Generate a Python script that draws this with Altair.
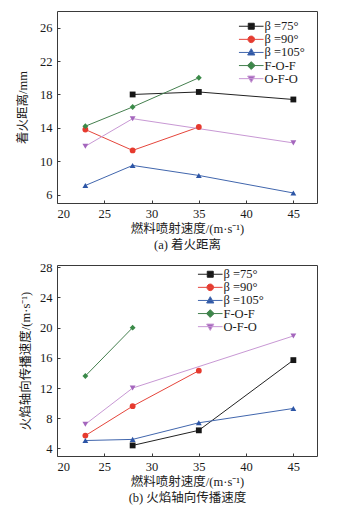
import altair as alt
import pandas as pd

# ---------------- data ----------------
series = ["β =75°", "β =90°", "β =105°", "F-O-F", "O-F-O"]
marker_colors = ["#161616", "#e63a2e", "#2c55a6", "#3a8a48", "#a466bd"]
line_colors = ["#222222", "#e5453b", "#4166ad", "#45804f", "#c898d4"]
shapes = ["square", "circle", "triangle-up", "diamond", "triangle-down"]
legend_shapes = [
    "M-4.1,0H4.1M-1,-1H1V1H-1Z",
    "M-4.1,0H4.1M1.1,0A1.1,1.1,0,1,1,-1.1,0A1.1,1.1,0,1,1,1.1,0Z",
    "M-4.1,0H4.1M0,-1.25L1.2,0.85H-1.2Z",
    "M-4.1,0H4.1M0,-1.3L1.3,0L0,1.3L-1.3,0Z",
    "M-4.1,0H4.1M0,1.25L1.2,-0.85H-1.2Z",
]
speed_ticks = [20, 25, 30, 35, 40, 45]

# (a) 着火距离 / mm
a_75_x = [28, 35, 45]
a_75_y = [18.0, 18.3, 17.4]
a_90_x = [23, 28, 35]
a_90_y = [13.8, 11.3, 14.1]
a_105_x = [23, 28, 35, 45]
a_105_y = [7.1, 9.5, 8.3, 6.2]
a_fof_x = [23, 28, 35]
a_fof_y = [14.2, 16.5, 20.0]
a_ofo_x = [23, 28, 45]
a_ofo_y = [11.8, 15.1, 12.2]
a_yticks = [6, 10, 14, 18, 22, 26]

# (b) 火焰轴向传播速度 / (m·s^-1)
b_75_x = [28, 35, 45]
b_75_y = [4.4, 6.4, 15.7]
b_90_x = [23, 28, 35]
b_90_y = [5.7, 9.6, 14.3]
b_105_x = [23, 28, 35, 45]
b_105_y = [5.05, 5.2, 7.4, 9.3]
b_fof_x = [23, 28]
b_fof_y = [13.6, 20.0]
b_ofo_x = [23, 28, 45]
b_ofo_y = [7.2, 12.0, 18.9]
b_yticks = [4, 8, 12, 16, 20, 24, 28]


def frame(groups):
    rows = []
    for name, xs, ys in groups:
        for x, y in zip(xs, ys):
            rows.append({"series": name, "speed": x, "value": y})
    return pd.DataFrame(rows)


df_a = frame([
    (series[0], a_75_x, a_75_y),
    (series[1], a_90_x, a_90_y),
    (series[2], a_105_x, a_105_y),
    (series[3], a_fof_x, a_fof_y),
    (series[4], a_ofo_x, a_ofo_y),
])
df_b = frame([
    (series[0], b_75_x, b_75_y),
    (series[1], b_90_x, b_90_y),
    (series[2], b_105_x, b_105_y),
    (series[3], b_fof_x, b_fof_y),
    (series[4], b_ofo_x, b_ofo_y),
])

W = 260
SERIF = "'Liberation Serif', 'Noto Sans CJK SC', serif"


def panel(df, ydom, yticks, ytitle, xtitle, H, lx, ly, ytp):
    xs = alt.Scale(domain=[20, 47.5], nice=False, zero=False)
    ys = alt.Scale(domain=ydom, nice=False, zero=False)
    main_x = alt.Axis(values=speed_ticks, ticks=False, domain=False, grid=False,
                      labelPadding=4, title=xtitle, titlePadding=3, titleLineHeight=16)
    main_y = alt.Axis(values=yticks, ticks=False, domain=False, grid=False,
                      labelPadding=5, title=ytitle, titlePadding=ytp)
    tick_x = alt.Axis(orient="top", offset=-H, values=speed_ticks, labels=False,
                      domain=False, grid=False, ticks=True, tickSize=3, title="")
    tick_y = alt.Axis(orient="right", offset=-W, values=yticks, labels=False,
                      domain=False, grid=False, ticks=True, tickSize=3, title="")
    base = alt.Chart(df)
    lines = base.mark_line(strokeWidth=1).encode(
        x=alt.X("speed:Q", scale=xs, axis=main_x),
        y=alt.Y("value:Q", scale=ys, axis=main_y),
        color=alt.Color("series:N", scale=alt.Scale(domain=series, range=line_colors), legend=None),
    )
    points = base.mark_point(filled=True, size=34, opacity=1).encode(
        x=alt.X("speed:Q", scale=xs, axis=None),
        y=alt.Y("value:Q", scale=ys, axis=None),
        color=alt.Color("series:N", scale=alt.Scale(domain=series, range=marker_colors), legend=None),
        shape=alt.Shape("series:N", scale=alt.Scale(domain=series, range=shapes), legend=None),
    )
    leg = alt.Legend(title=None, orient="none", legendX=lx, legendY=ly,
                     labelFont=SERIF, labelFontSize=12.5, labelColor="#1a1a1a",
                     labelFontWeight="normal",
                     symbolSize=36, symbolStrokeWidth=1, symbolOffset=10,
                     labelOffset=7, rowPadding=0.1, padding=0)
    key = base.transform_filter("false").mark_point(filled=True, size=36, strokeWidth=1, opacity=1).encode(
        fill=alt.Fill("series:N", scale=alt.Scale(domain=series, range=marker_colors), legend=leg),
        stroke=alt.Stroke("series:N", scale=alt.Scale(domain=series, range=line_colors), legend=leg),
        shape=alt.Shape("series:N", scale=alt.Scale(domain=series, range=legend_shapes), legend=leg),
    )
    ticks = base.mark_point(opacity=0).encode(
        x=alt.X("speed:Q", scale=xs, axis=tick_x),
        y=alt.Y("value:Q", scale=ys, axis=tick_y),
    )
    return (
        alt.layer(lines, points, key, ticks)
        .resolve_scale(shape="independent", color="independent",
                       fill="independent", stroke="independent")
        .resolve_axis(x="independent", y="independent")
        .properties(width=W, height=H)
    )


top = panel(df_a, [5, 28], a_yticks, "着火距离/mm",
            ["燃料喷射速度/(m·s⁻¹)", "(a) 着火距离"], 192, 178, 9, 10)
bottom = panel(df_b, [3, 28.3], b_yticks, "火焰轴向传播速度/(m·s⁻¹)",
               ["燃料喷射速度/(m·s⁻¹)", "(b) 火焰轴向传播速度"], 191, 137, 3, 7)

chart = (
    alt.vconcat(top, bottom, spacing=8)
    .resolve_scale(color="independent", shape="independent", fill="independent",
                   stroke="independent", x="independent", y="independent")
    .properties(padding={"left": 16, "top": 10, "right": 5, "bottom": 5}, background="white")
    .configure_view(stroke="#3a3a3a", strokeWidth=1)
    .configure_axis(labelFont=SERIF, labelFontSize=12.5, labelColor="#1a1a1a",
                    titleFont=SERIF, titleFontSize=12.5, titleFontWeight="normal",
                    titleColor="#1a1a1a", tickColor="#3a3a3a", tickWidth=1)
)

chart.save("out.html", embed_options={"renderer": "svg", "actions": False})
